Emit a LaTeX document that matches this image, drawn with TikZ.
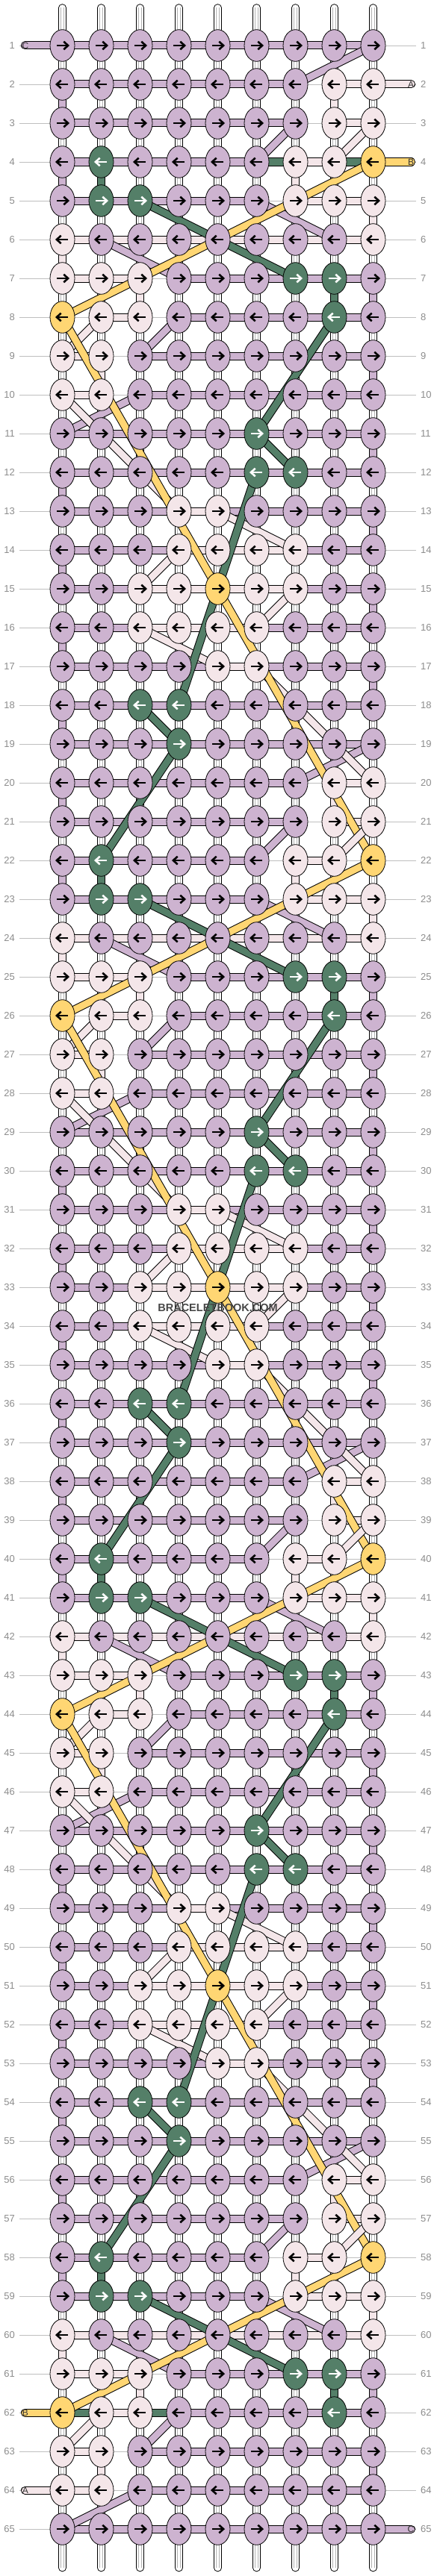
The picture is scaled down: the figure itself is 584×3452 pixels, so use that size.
\documentclass[tikz,border=0pt]{standalone}
\usepackage{fontspec}
\setmainfont{Liberation Sans}
\usetikzlibrary{shapes.geometric}

\definecolor{cP}{HTML}{CDB3D0}
\definecolor{cW}{HTML}{F4E6E9}
\definecolor{cY}{HTML}{FFD673}
\definecolor{cG}{HTML}{547F68}

\pgfdeclarelayer{guide}
\pgfdeclarelayer{bands}
\pgfdeclarelayer{strands}
\pgfsetlayers{guide,bands,strands,main}

% one row: row number, knot colours, colours between the knots (N = none)
\newcommand\knotrow[3]{%
  \foreach \k [count=\cc] in #2 {
    \node[knot, fill=c\k] (k-#1-\cc) at ({83.5+52*(\cc-1)}, {61+52*(#1-1)}) {};
    \ifodd#1 \def\dir{1}\else\def\dir{-1}\fi
    \if G\k \def\acol{white}\else\def\acol{black}\fi
    \draw[knotarrow, \acol] ([xshift={-7.5*(\dir)}]k-#1-\cc.center) to ([xshift={6.5*(\dir)}]k-#1-\cc.center);
    \draw[knotarrow, \acol] ([xshift={1.8*(\dir)}, yshift=5.3]k-#1-\cc.center) -- ([xshift={7.6*(\dir)}]k-#1-\cc.center) -- ([xshift={1.8*(\dir)}, yshift=-5.3]k-#1-\cc.center);
  }
  \expandafter\xdef\csname hs@#1\endcsname{#3}%
}

\begin{document}
\begin{tikzpicture}[x=1pt, y=-1pt,
    knot/.style={ellipse, draw, line width=0.8pt, minimum width=33pt, minimum height=42.6pt, inner sep=0pt},
    band/.style={draw=black, line width=1pt, double=#1, double distance=9pt},
    warp/.style={draw=black, line width=1pt, double=white, double distance=8.6pt, line cap=round},
    guideline/.style={draw=black!25, line width=0.8pt},
    knotarrow/.style={line width=2.6pt, line join=miter},
    rownum/.style={text=black!45, font=\fontsize{13}{13}\selectfont, inner sep=0pt},
    stubtext/.style={text=black!80, font=\fontsize{12}{12}\selectfont, inner sep=0pt}]
  \useasboundingbox (0,0) rectangle (584,3452);

  % strings and row lines
  \begin{pgfonlayer}{guide}
    \foreach \cc in {1,...,9}{
      \coordinate (t-\cc) at ({83.5+52*(\cc-1)}, 10.5);
      \coordinate (b-\cc) at ({83.5+52*(\cc-1)}, 3441);
      \draw[warp] (t-\cc) to (b-\cc);
      \draw[draw=black!30, line width=0.5pt, double=white, double distance=3.4pt] (t-\cc) to (b-\cc);
    }
    \foreach \rw in {1,...,65}{
      \coordinate (gl-\rw) at (26, {61+52*(\rw-1)});
      \coordinate (gr-\rw) at (557, {61+52*(\rw-1)});
      \draw[guideline] (gl-\rw) to (gr-\rw);
    }
  \end{pgfonlayer}
  \foreach \rw in {1,...,65}{
    \node[rownum, anchor=east] (nl-\rw) at (20, {61+52*(\rw-1)}) {\rw};
    \node[rownum, anchor=west] (nr-\rw) at (563, {61+52*(\rw-1)}) {\rw};
  }

  % knots
  \def\allP{P,P,P,P,P,P,P,P,P}
  \def\allPs{P,P,P,P,P,P,P,P}
  \knotrow{1}{\allP}{\allPs}
  \foreach \ii/\kn/\hs in {
      0/{P,P,P,P,P,P,P,W,W}/{P,P,P,P,P,P,N,W},
      1/{P,P,P,P,P,P,P,W,W}/{P,P,P,P,P,P,N,W},
      2/{P,G,P,P,P,P,W,W,Y}/{P,P,P,P,P,N,W,N},
      3/{P,G,G,P,P,P,W,W,W}/{P,P,P,P,P,N,W,W},
      4/{W,P,P,P,P,P,P,P,W}/{W,W,W,W,W,W,W,W},
      5/{W,W,W,P,P,P,G,G,P}/{W,W,N,P,P,P,P,P},
      6/{Y,W,W,P,P,P,P,G,P}/{N,W,N,P,P,P,P,P},
      7/{W,W,P,P,P,P,P,P,P}/{W,N,P,P,P,P,P,P},
      8/{W,W,P,P,P,P,P,P,P}/{W,N,P,P,P,P,P,P},
      9/{P,P,P,P,P,G,P,P,P}/{P,P,P,P,P,P,P,P},
      10/{P,P,P,P,P,G,G,P,P}/{P,P,P,P,P,P,P,P},
      11/{P,P,P,W,W,P,P,P,P}/{P,P,P,W,P,P,P,P},
      12/{P,P,P,W,W,W,W,P,P}/{P,P,P,W,W,W,P,P},
      13/{P,P,W,W,Y,W,W,P,P}/{P,P,W,W,W,W,P,P},
      14/{P,P,W,W,W,W,P,P,P}/{P,P,W,W,W,P,P,P},
      15/{P,P,P,P,W,W,P,P,P}/{P,P,P,P,W,P,P,P},
      16/{P,P,G,G,P,P,P,P,P}/{P,P,P,P,P,P,P,P},
      17/{P,P,P,G,P,P,P,P,P}/{P,P,P,P,P,P,P,P}}{
    \foreach \off in {0,18,36,54}{
      \pgfmathtruncatemacro\rw{\ii+2+\off}
      \ifnum\rw<65
        \ifnum\rw=4 \def\hs{P,P,P,P,P,G,W,G}\fi
        \ifnum\rw=62 \def\hs{G,W,G,P,P,P,P,P}\fi
        \knotrow{\rw}{\kn}{\hs}
      \fi
    }
  }
  \knotrow{65}{\allP}{\allPs}

  \begin{pgfonlayer}{bands}
    % threads between the knots of a row
    \foreach \rw in {1,...,65}{
      \edef\segs{\csname hs@\rw\endcsname}
      \foreach \sg [count=\cc] in \segs {
        \if N\sg\else
          \pgfmathtruncatemacro\dd{\cc+1}
          \draw[band=c\sg] (k-\rw-\cc.center) to (k-\rw-\dd.center);
        \fi
      }
    }
    % threads turning down at the same string
    \foreach \off in {0,18,36,54}{
      \foreach \ra/\cc/\col in {2/1/P,4/1/P,12/1/P,14/1/P,16/1/P,18/1/P,
          7/9/P,9/9/P,11/9/P,13/9/P,15/9/P,17/9/P,
          2/8/W,4/7/W,5/9/W,6/1/W,7/3/W,9/2/W,4/2/G,7/8/G}{
        \pgfmathtruncatemacro\ta{\ra+\off}
        \pgfmathtruncatemacro\tb{\ra+\off+1}
        \ifnum\tb<66
          \draw[band=c\col] (k-\ta-\cc.center) to (k-\tb-\cc.center);
        \fi
      }
    }
    % end threads
    \coordinate (inC) at (33.5,61);
    \coordinate (outA) at (550.5,113);
    \coordinate (outB) at (550.5,217);
    \coordinate (inB) at (33.5,3233);
    \coordinate (inA) at (33.5,3337);
    \coordinate (outC) at (550.5,3389);
    \draw[band=cP, line cap=round] (inC) to (k-1-1.center);
    \draw[band=cW, line cap=round] (k-2-9.center) to (outA);
    \draw[band=cY, line cap=round] (k-4-9.center) to (outB);
    \draw[band=cY, line cap=round] (inB) to (k-62-1.center);
    \draw[band=cW, line cap=round] (inA) to (k-64-1.center);
    \draw[band=cP, line cap=round] (k-65-9.center) to (outC);
  \end{pgfonlayer}
  \node[stubtext] (lC) at (34,61) {C};
  \node[stubtext] (lA) at (550,113) {A};
  \node[stubtext] (lB) at (550,217) {B};
  \node[stubtext] (lB2) at (34,3233) {B};
  \node[stubtext] (lA2) at (34,3337) {A};
  \node[stubtext] (lC2) at (550,3389) {C};

  % floating threads
  \begin{pgfonlayer}{strands}
    \foreach \off in {0,18,36,54}{
      \foreach \ra/\ca/\rb/\cb/\col in {3/7/4/6/P,5/6/6/8/P,6/2/7/4/P,8/4/9/3/P,10/3/11/1/P,19/9/20/7/P,
          3/9/4/8/W,8/2/9/1/W,10/1/13/4/W,13/5/14/7/W,14/4/15/3/W,15/7/16/6/W,16/3/17/5/W,17/6/20/9/W,
          4/9/8/1/Y,8/1/15/5/Y,15/5/22/9/Y,
          5/3/7/7/G,8/8/11/6/G,11/6/12/7/G,12/6/18/4/G,18/3/19/4/G,19/4/22/2/G}{
        \pgfmathtruncatemacro\ta{\ra+\off}
        \pgfmathtruncatemacro\tb{\rb+\off}
        \ifnum\tb<65
          \draw[band=c\col] (k-\ta-\ca.center) to (k-\tb-\cb.center);
        \fi
      }
    }
    \draw[band=cP] (k-1-9.center) to (k-2-7.center);
    \draw[band=cP] (k-64-3.center) to (k-65-1.center);
  \end{pgfonlayer}

  \node[text=black!72, font=\bfseries\fontsize{14.5}{14.5}\selectfont] (mark) at (291.5,1752) {BRACELETBOOK.COM};
\end{tikzpicture}
\end{document}
